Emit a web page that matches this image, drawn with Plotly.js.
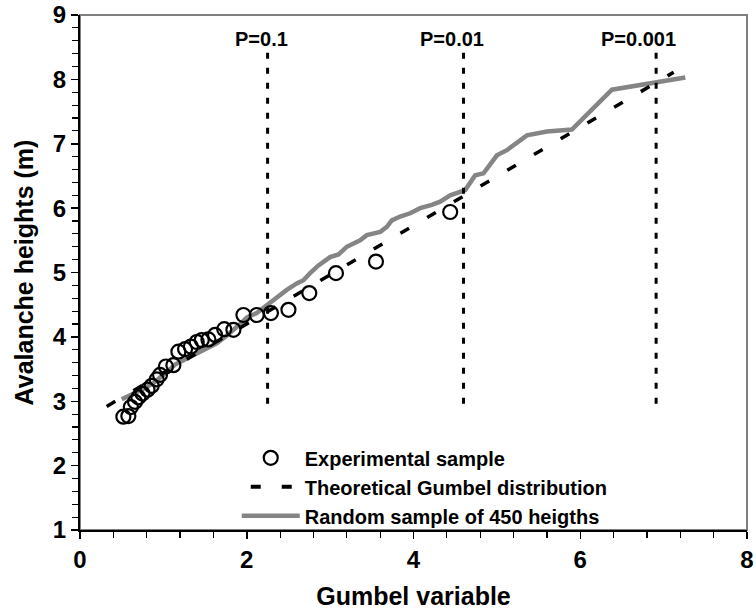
<!DOCTYPE html>
<html><head><meta charset="utf-8">
<script src="https://cdn.plot.ly/plotly-3.0.1.min.js"></script>
<style>html,body{margin:0;padding:0;background:#fff}#chart{width:756px;height:615px}</style>
</head><body><div id="chart"></div>
<script>
// Experimental sample (Gumbel variable, avalanche height in m)
const expX = [0.52,0.58,0.61,0.66,0.70,0.75,0.81,0.86,0.92,0.96,1.03,1.12,1.18,1.26,1.33,1.40,1.46,1.54,1.62,1.73,1.84,1.96,2.12,2.29,2.50,2.75,3.07,3.55,4.44];
const expY = [2.76,2.77,2.91,2.99,3.06,3.12,3.18,3.24,3.34,3.41,3.54,3.56,3.77,3.81,3.85,3.92,3.95,3.96,4.03,4.12,4.11,4.34,4.34,4.37,4.42,4.68,4.99,5.17,5.94];
// Random sample of 450 heights
const randX = [0.50,0.62,0.74,0.88,1.00,1.08,1.14,1.26,1.40,1.52,1.64,1.74,1.84,1.92,2.00,2.12,2.24,2.36,2.48,2.60,2.68,2.76,2.86,3.00,3.10,3.16,3.20,3.36,3.44,3.60,3.68,3.74,3.84,3.96,4.08,4.22,4.32,4.44,4.56,4.62,4.74,4.84,5.00,5.12,5.36,5.60,5.90,6.38,7.26];
const randY = [3.03,3.10,3.18,3.28,3.40,3.50,3.57,3.65,3.75,3.83,3.90,4.00,4.10,4.20,4.30,4.37,4.49,4.62,4.73,4.83,4.88,4.99,5.11,5.24,5.28,5.35,5.40,5.50,5.58,5.63,5.71,5.81,5.87,5.92,6.00,6.05,6.10,6.20,6.25,6.28,6.51,6.54,6.82,6.90,7.13,7.19,7.22,7.84,8.03];
// Theoretical Gumbel distribution
const gumbelX = [0.32, 7.12];
const gumbelY = [2.92, 8.11];
// Return-probability markers
const probLabels = ['P=0.1','P=0.01','P=0.001'];
const probX = [2.25, 4.60, 6.91];
const probYRange = [2.96, 8.53];
const probLabelY = 8.62;
// Tick labels
const xTickVals = [0, 2, 4, 6, 8];
const yTickVals = [1, 2, 3, 4, 5, 6, 7, 8, 9];

const FONT = 'Liberation Sans, Arial, sans-serif';
const bold = function (v) { return '<b>' + v + '</b>'; };

const vx = [], vy = [];
probX.forEach(function (x) { vx.push(x, x, null); vy.push(probYRange[0], probYRange[1], null); });

const traces = [
  { x: randX, y: randY, type: 'scatter', mode: 'lines', showlegend: false,
    line: { color: '#858585', width: 4.5 }, hoverinfo: 'skip' },
  { x: gumbelX, y: gumbelY, type: 'scatter', mode: 'lines', showlegend: false,
    line: { color: '#000', width: 3.5, dash: '10px,21px' }, hoverinfo: 'skip' },
  { x: vx, y: vy, type: 'scatter', mode: 'lines', showlegend: false,
    line: { color: '#000', width: 3, dash: '6px,9px' }, hoverinfo: 'skip' },
  { x: expX, y: expY, type: 'scatter', mode: 'markers', name: 'Experimental sample',
    marker: { symbol: 'circle-open', size: 14, color: '#000', line: { width: 2.2 } } },
  { x: [null], y: [null], type: 'scatter', mode: 'lines', name: 'Theoretical Gumbel distribution',
    line: { color: '#000', width: 4, dash: '0px,9px,10px,21px,10px,100px' } },
  { x: [null], y: [null], type: 'scatter', mode: 'lines', name: 'Random sample of 450 heigths',
    line: { color: '#858585', width: 4.5 } }
];

const annotations = probLabels.map(function (t, i) {
  return { x: probX[i], y: probLabelY, xref: 'x', yref: 'y', text: bold(t),
    showarrow: false, xanchor: 'right', xshift: 22, yanchor: 'middle',
    font: { family: FONT, size: 20, color: '#000' } };
});

const axisCommon = {
  showgrid: false, zeroline: false, showline: true, linecolor: '#000', linewidth: 2,
  ticks: 'outside', tickcolor: '#000', tickwidth: 1.5, ticklen: 7,
  tickfont: { family: FONT, size: 24, color: '#000' }
};

const layout = {
  width: 756, height: 615,
  margin: { l: 80, r: 9, t: 15, b: 85 },
  paper_bgcolor: '#fff', plot_bgcolor: '#fff',
  font: { family: FONT, color: '#000' },
  xaxis: Object.assign({}, axisCommon, {
    range: [0, 8], tickmode: 'array', tickvals: xTickVals, ticktext: xTickVals.map(bold),
    minor: { dtick: 0.4, tick0: 0, ticks: 'outside', ticklen: 6, tickcolor: '#000', tickwidth: 1.2 },
    title: { text: bold('Gumbel variable'), font: { family: FONT, size: 25, color: '#000' }, standoff: 16 }
  }),
  yaxis: Object.assign({}, axisCommon, {
    range: [1, 9], tickmode: 'array', tickvals: yTickVals, ticktext: yTickVals.map(bold),
    minor: { dtick: 0.2, tick0: 1, ticks: 'outside', ticklen: 6, tickcolor: '#000', tickwidth: 1.2 },
    title: { text: bold('Avalanche heights (m)'), font: { family: FONT, size: 25, color: '#000' }, standoff: 12 }
  }),
  shapes: [
    { type: 'rect', xref: 'paper', yref: 'paper', x0: 0, x1: 1, y0: 0, y1: 1,
      line: { color: '#808080', width: 2 }, layer: 'below' }
  ],
  annotations: annotations,
  showlegend: true,
  legend: {
    x: 0.235, y: 0.178, xanchor: 'left', yanchor: 'top',
    bgcolor: 'rgba(0,0,0,0)', borderwidth: 0, itemwidth: 58,
    font: { family: FONT, size: 20, color: '#000', weight: 'bold' },
    itemclick: false, itemdoubleclick: false
  }
};

Plotly.newPlot('chart', traces, layout, { staticPlot: true, displayModeBar: false });
</script>
</body></html>
